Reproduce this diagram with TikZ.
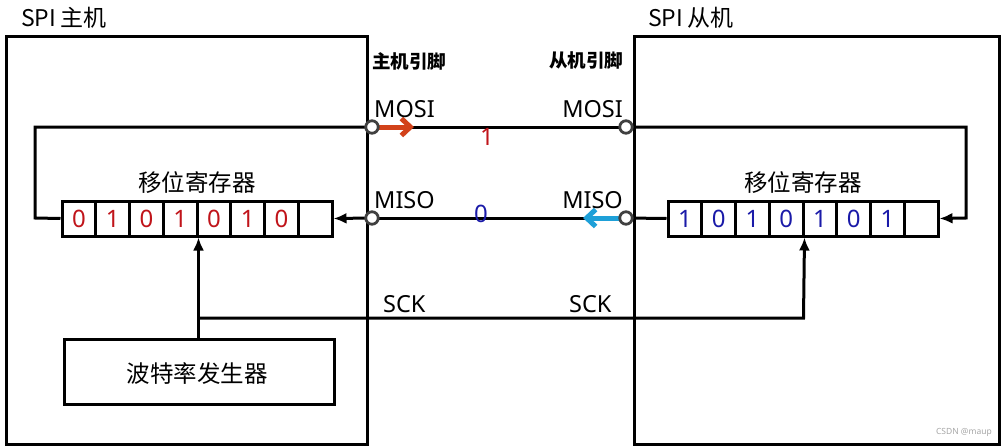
\documentclass[tikz,border=0pt]{standalone}
\usepackage{fontspec}
\setmainfont{Noto Sans}
\newfontfamily\cjk{Noto Sans CJK SC}
\usetikzlibrary{arrows.meta}
\definecolor{redd}{HTML}{C0141A}
\definecolor{bluee}{HTML}{1A1AA8}
\definecolor{arrred}{HTML}{D2421A}
\definecolor{arrblue}{HTML}{1EA0D8}
\definecolor{pingray}{HTML}{404040}
\tikzset{
  box/.style={draw, line width=3.4pt},
  cell/.style={draw, line width=3pt, minimum width=33.75pt, minimum height=35pt, inner sep=0pt, font=\fontsize{24}{24}\selectfont},
  pin/.style={circle, draw=pingray, fill=white, line width=2.8pt, minimum size=12.5pt, inner sep=0pt},
  wire/.style={line width=3pt},
  arw/.style={wire, -{Latex[length=13pt,width=11pt]}},
  lbl/.style={font=\fontsize{23.5}{23.5}\selectfont, inner sep=0pt},
  clbl/.style={font=\cjk\fontsize{23.5}{23.5}\selectfont, inner sep=0pt},
}
\begin{document}
\begin{tikzpicture}[x=1pt,y=-1pt]
\useasboundingbox (0,0) rectangle (1002,447);
% boxes
\node[box, minimum width=361pt, minimum height=408pt, anchor=north west] (master) at (5,35) {};
\node[box, minimum width=365pt, minimum height=408pt, anchor=north west] (slave) at (633,35) {};
\node[lbl, font=\cjk\fontsize{23}{23}\selectfont, anchor=west] (mtitle) at (21,18) {SPI\hspace{4pt}主机};
\node[lbl, font=\cjk\fontsize{23}{23}\selectfont, anchor=west] (stitle) at (648,18) {SPI\hspace{4pt}从机};
\node[inner sep=0pt, font=\cjk\bfseries\fontsize{18.5}{18.5}\selectfont] (mpins) at (409,61) {主机引脚};
\node[inner sep=0pt, font=\cjk\bfseries\fontsize{18.5}{18.5}\selectfont] (spins) at (586,60) {从机引脚};
% registers
\foreach \i/\d in {1/0,2/1,3/0,4/1,5/0,6/1,7/0,8/{}} {
  \node[cell, text=redd] (m\i) at ({62+33.75*(\i-0.5)},218.5) {\d};
}
\foreach \i/\d in {1/1,2/0,3/1,4/0,5/1,6/0,7/1,8/{}} {
  \node[cell, text=bluee] (s\i) at ({668+33.75*(\i-0.5)},218.5) {\d};
}
\node[clbl] (mreg) at (197,183) {移位寄存器};
\node[clbl] (sreg) at (803,183) {移位寄存器};
% baud generator
\node[box, minimum width=270pt, minimum height=65pt, anchor=north west] (baud) at (63,338) {};
\node[clbl] (baudt) at (197,374) {波特率发生器};
% pins
\coordinate (mmosiC) at (372,127);
\coordinate (mmisoC) at (372,218);
\coordinate (smosiC) at (626,127);
\coordinate (smisoC) at (626,218);
\coordinate (mloopA) at (35,127);
\coordinate (mloopB) at (35,218);
\coordinate (sloopA) at (966,127);
\coordinate (sloopB) at (966,218);
\coordinate (sckA) at (197,318);
\coordinate (sckB) at (803.5,318);
% wires
\draw[wire] (mmosiC) -- (smosiC);
\draw[wire] (mmisoC) -- (smisoC);
\draw[wire] (mmosiC) -- (mloopA) -- (mloopB) -- (m1.west);
\draw[arw] (mmisoC) -- (m8.east);
\draw[arw] (smosiC) -- (sloopA) -- (sloopB) -- (s8.east);
\draw[wire] (s1.west) -- (smisoC);
\draw[arw] (baud.north -| m4.south east) -- (m4.south east);
\draw[arw] (sckA) -- (sckB) -- (s4.south east);
% colored arrows
\draw[line width=5pt, arrred, -{Straight Barb[length=9pt,width=17pt]}] (378,127) -- (414,127);
\draw[line width=5pt, arrblue, -{Straight Barb[length=9pt,width=17pt]}] (620,218) -- (583,218);
\node[pin] (mmosi) at (mmosiC) {};
\node[pin] (mmiso) at (mmisoC) {};
\node[pin] (smosi) at (smosiC) {};
\node[pin] (smiso) at (smisoC) {};
% labels
\node[lbl, anchor=base west] (lmosi) at (374,117) {MOSI};
\node[lbl, anchor=base west] (lmiso) at (374,208) {MISO};
\node[lbl, anchor=base east] (rmosi) at (623,117) {MOSI};
\node[lbl, anchor=base east] (rmiso) at (623,208) {MISO};
\node[lbl, anchor=base west] (lsck) at (383,312) {SCK};
\node[lbl, anchor=base west] (rsck) at (569,312) {SCK};
\node[lbl, text=redd, font=\fontsize{24}{24}\selectfont, anchor=base] (bit1) at (487,145) {1};
\node[lbl, text=bluee, font=\fontsize{24}{24}\selectfont, anchor=base] (bit0) at (481,222) {0};
\node[inner sep=0pt, text=gray!70, font=\fontsize{8.5}{8.5}\selectfont, anchor=east] (wm) at (992,432) {CSDN @maup};
\end{tikzpicture}
\end{document}
